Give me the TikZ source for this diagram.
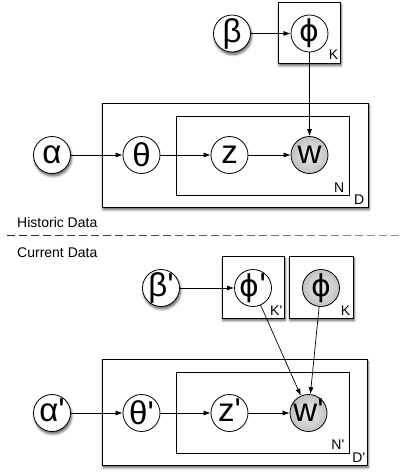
\documentclass[tikz,border=0pt]{standalone}
\usepackage{fontspec}
\setmainfont{Liberation Sans}[Ligatures=TeXOff]
\newfontfamily\dvphi{DejaVu Sans}
\newcommand\myphi{{\dvphi\fontsize{30}{34}\selectfont ϕ}}
\usetikzlibrary{arrows.meta,shadows,shadows.blur}
\begin{document}
\begin{tikzpicture}[x=1pt,y=-1pt,
  shad/.style={blur shadow={shadow xshift=1pt,shadow yshift=-2.5pt,shadow blur radius=2.5pt,shadow blur steps=6,shadow opacity=65}},
  var/.style={circle,draw=black,line width=0.8pt,fill=white,minimum size=37pt,inner sep=-9pt,
    font=\fontsize{33}{37}\selectfont},
  obs/.style={var,inner color=black!8,outer color=black!24},
  plate/.style={rectangle,draw=black,line width=0.8pt,fill=white,inner sep=0pt},
  plab/.style={anchor=base east,inner sep=0pt,font=\fontsize{14}{16}\selectfont},
  txt/.style={anchor=base west,inner sep=0pt,font=\fontsize{14}{16}\selectfont},
  arr/.style={-{Latex[length=7pt,width=5pt]},line width=0.7pt}
]
\useasboundingbox (0,0) rectangle (400,472);
% ---------- upper (historic) ----------
\node[plate,shad,minimum width=62pt,minimum height=61pt] (pK) at (309,32.5) {};
\node[plate,shad,minimum width=266pt,minimum height=104pt] (pD) at (235,155) {};
\node[plate,minimum width=173pt,minimum height=79pt] (pN) at (262.5,155.5) {};
\node[plab] (lK) at ([xshift=-2pt,yshift=4pt]pK.south east) {K};
\node[plab] (lN) at ([xshift=-5pt,yshift=3pt]pN.south east) {N};
\node[plab] (lD) at ([xshift=-4pt,yshift=3pt]pD.south east) {D};

\node[var,shad] (a1) at (52,155) {α};
\node[var] (t1) at (141.5,155) {θ};
\node[var] (z1) at (229.5,155) {z};
\node[obs] (w1) at (309.5,155) {w};
\node[var,shad] (b1) at (232,33.5) {β};
\node[var] (f1) at (309.5,33.5) {\myphi};

\draw[arr] (b1) -- (f1);
\draw[arr] (f1) -- (w1);
\draw[arr] (a1) -- (t1);
\draw[arr] (t1) -- (z1);
\draw[arr] (z1) -- (w1);

\node[txt] (hist) at (17,227) {Historic Data};
\foreach \i in {0,...,33}{
  \pgfmathsetmacro\c{85-1.3*\i}
  \draw[black!\c,line width=0.8pt] (7+12*\i,235) -- (15+12*\i,235);
}
\node[txt] (curr) at (17,257) {Current Data};

% ---------- lower (current) ----------
\node[plate,shad,minimum width=62pt,minimum height=62pt] (pK2) at (253,287) {};
\node[plate,shad,minimum width=64pt,minimum height=62pt] (pK3) at (321,287) {};
\node[plate,shad,minimum width=265pt,minimum height=106pt] (pD2) at (234.5,412) {};
\node[plate,minimum width=173pt,minimum height=81pt] (pN2) at (262.5,412.5) {};
\node[plab] (lK2) at ([xshift=-2pt,yshift=3pt]pK2.south east) {K'};
\node[plab] (lK3) at ([xshift=-3pt,yshift=3pt]pK3.south east) {K};
\node[plab] (lN2) at ([xshift=-5pt,yshift=4pt]pN2.south east) {N'};
\node[plab] (lD2) at ([xshift=-2pt,yshift=3pt]pD2.south east) {D'};

\node[var,shad] (a2) at (52,413) {α\smash{'}};
\node[var] (t2) at (141.5,413) {θ\smash{'}};
\node[var] (z2) at (229.5,413) {z\smash{'}};
\node[obs] (w2) at (308.5,413) {w\smash{'}};
\node[var,shad] (b2) at (161,288) {β\smash{'}};
\node[var] (f2) at (253,288) {\myphi\smash{'}};
\node[obs] (f3) at (321,288) {\myphi};

\draw[arr] (b2) -- (f2);
\draw[arr] (f2) -- (w2);
\draw[arr] (f3) -- (w2);
\draw[arr] (a2) -- (t2);
\draw[arr] (t2) -- (z2);
\draw[arr] (z2) -- (w2);
\end{tikzpicture}
\end{document}
